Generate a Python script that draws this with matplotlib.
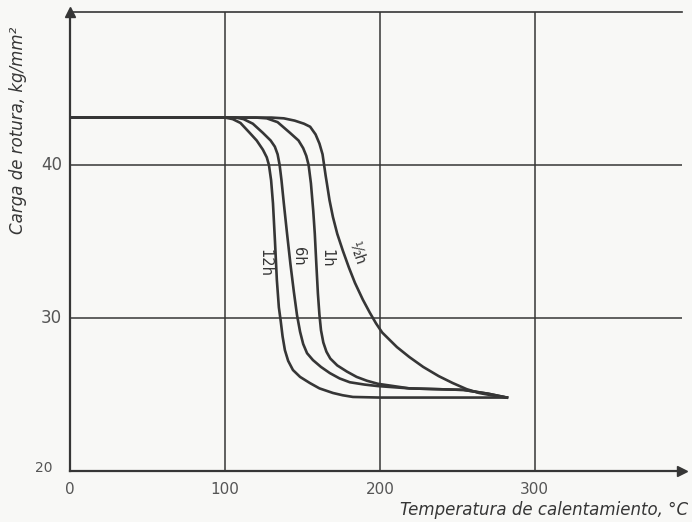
import matplotlib.pyplot as plt

# tensile strength vs. heating temperature for several soak times
temp_12h = [0, 100, 105, 110, 116, 120.5, 124.5, 127, 128.4, 129.8, 131, 132.3, 133.5, 134.8, 136,
            137.2, 138.7, 140.8, 143.9, 148.5, 154.8, 161, 169.7, 176, 182.6, 200, 282]
load_12h = [43.1, 43.1, 43.0, 42.75, 42.1, 41.6, 41.0, 40.5, 40.0, 39.0, 37.5, 35.0, 32.5, 30.7, 29.8,
            28.8, 27.9, 27.2, 26.6, 26.15, 25.75, 25.4, 25.1, 24.95, 24.84, 24.8, 24.8]

temp_6h = [0, 107, 112, 118, 124.5, 129.5, 132.2, 134, 135.3, 136.5, 138, 140, 142.3, 144.5, 146.5, 148.5,
           150.5, 153, 156.8, 162, 167.7, 174, 180.6, 190, 198.7, 219, 254, 270, 282]
load_6h = [43.1, 43.1, 43.0, 42.7, 42.1, 41.6, 41.2, 40.7, 40.0, 39.0, 37.5, 35.6, 33.5, 31.7, 30.2, 29.1,
           28.3, 27.7, 27.25, 26.8, 26.4, 26.05, 25.8, 25.65, 25.55, 25.4, 25.3, 25.05, 24.8]

temp_1h = [0, 120, 127, 134, 142, 147.5, 150.5, 152.5, 154, 155.5, 157, 158, 159, 160, 161, 162,
           163.5, 165.5, 168, 172.5, 178.7, 185, 191.6, 198.7, 219, 254, 270, 282]
load_1h = [43.1, 43.1, 43.05, 42.8, 42.1, 41.6, 41.1, 40.6, 40.0, 38.8, 37.0, 35.5, 33.5, 31.6, 30.2, 29.2,
           28.4, 27.8, 27.35, 26.9, 26.5, 26.15, 25.9, 25.7, 25.4, 25.3, 25.05, 24.8]

temp_half = [0, 130, 138, 145, 151, 155, 158.5, 161, 163, 164, 165, 165.8, 167.5, 169.7, 172.5, 176.1,
             180, 183.9, 189, 193.5, 197.5, 201.5, 206.5, 211, 219, 228, 238, 247, 256, 264, 272, 282]
load_half = [43.1, 43.1, 43.05, 42.9, 42.7, 42.5, 42.0, 41.4, 40.7, 40.0, 39.3, 38.8, 37.7, 36.6, 35.5, 34.4,
             33.3, 32.3, 31.2, 30.35, 29.65, 29.05, 28.55, 28.1, 27.45, 26.8, 26.2, 25.75, 25.35, 25.1, 24.95, 24.8]

ink = '#363636'
paper = '#f8f8f6'

fig = plt.figure(figsize=(6.92, 5.22), dpi=100)
fig.set_facecolor(paper)
ax = fig.add_axes([70 / 692, 51 / 522, 612 / 692, 459 / 522])
ax.set_facecolor(paper)
ax.set_xlim(0, 395)
ax.set_ylim(20, 50)

ax.spines['right'].set_visible(False)
for s in ['left', 'bottom', 'top']:
    ax.spines[s].set_color(ink)
    ax.spines[s].set_linewidth(1.6)
ax.spines['top'].set_linewidth(1.2)

# arrows at the ends of the axes
ax.plot(1.0, 0, '>', color=ink, markersize=7, transform=ax.transAxes, clip_on=False)
ax.plot(0, 1.0, '^', color=ink, markersize=7, transform=ax.transAxes, clip_on=False)

for gx in [100, 200, 300]:
    ax.axvline(gx, color=ink, lw=1.1, zorder=1)
for gy in [30, 40]:
    ax.axhline(gy, color=ink, lw=1.1, zorder=1)

for xs, ys in [(temp_12h, load_12h), (temp_6h, load_6h), (temp_1h, load_1h), (temp_half, load_half)]:
    ax.plot(xs, ys, color=ink, lw=1.9, zorder=3, solid_joinstyle='round')

ax.set_xticks([])
ax.set_yticks([])

tick_color = '#555555'
for v in [0, 100, 200, 300]:
    ax.text(v, 18.8, str(v), ha='center', va='center', fontsize=11, color=tick_color)
for v in [30, 40]:
    ax.text(-12, v, str(v), ha='center', va='center', fontsize=12, color=tick_color)
ax.text(-17, 20.2, '20', ha='center', va='center', fontsize=10, color=tick_color)

# curve labels
ax.text(126, 33.6, '12h', rotation=-90, ha='center', va='center', fontsize=10.5, color=ink)
ax.text(147.5, 34.0, '6h', rotation=-90, ha='center', va='center', fontsize=10.5, color=ink)
ax.text(166, 33.9, '1h', rotation=-90, ha='center', va='center', fontsize=10.5, color=ink)
ax.text(185, 34.2, '½h', rotation=-72, ha='center', va='center', fontsize=10.5, color=ink)

fig.text(688 / 692, 1 - 510 / 522, 'Temperatura de calentamiento, °C', ha='right', va='center',
         fontsize=12, style='italic', color=ink)
fig.text(18 / 692, 1 - 130 / 522, 'Carga de rotura, kg/mm²', rotation=90, ha='center', va='center',
         fontsize=12, style='italic', color=ink)

fig.savefig('out.png', dpi=100, facecolor=paper)
